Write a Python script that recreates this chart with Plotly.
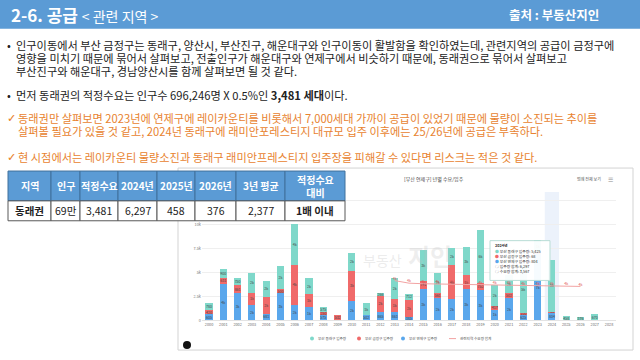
import plotly.graph_objects as go

W, H = 640, 360
def px(x): return x / W
def py(y): return 1 - y / H

FONT = "Noto Sans CJK KR"

# ---------------- data ----------------
years = list(range(2000, 2029))
dongnae = [780, 900, 750, 2000, 1600, 2400, 4300, 1700, 575, 0, 1800, 1250, 266, 2200, 712,
           3300, 2100, 1800, 3000, 5500, 2200, 1900, 5035, 1260, 5425, 458, 376, 670, 0]
geumjeong = [420, 631, 861, 1300, 1800, 500, 4200, 1300, 250, 532, 3200, 0, 1700, 1400, 1700,
             791, 561, 3600, 1400, 752, 417, 502, 100, 150, 68, 0, 0, 0, 0]
yeonje = [605, 3800, 2800, 1600, 681, 2800, 1600, 1400, 575, 0, 2000, 502, 865, 863, 385,
          3300, 2300, 2200, 3300, 3150, 1100, 2300, 625, 6950, 804, 0, 0, 0, 0]
demand_years = list(range(2013, 2027))
demand = [4150, 3880, 3820, 3790, 3760, 3730, 3700, 3680, 3650, 3620, 3590, 3567, 3550, 3540]

y_ticks = [0, 2500, 5000, 7500, 10000, 12500]
y_ticktext = ["0", "2.5k", "5k", "7.5k", "10k", "12.5k"]

series_names = ["부산 동래구 입주량", "부산 금정구 입주량", "부산 연제구 입주량", "관련지역 수요량 합계"]

table_header = ["지역", "인구", "적정수요", "2024년", "2025년", "2026년", "3년 평균", "적정수요<br>대비"]
table_row = ["동래권", "69만", "3,481", "6,297", "458", "376", "2,377", "1배 이내"]

tooltip_year = "2024년"
tooltip_lines = ["부산 동래구 입주량: 5,425", "부산 금정구 입주량: 68", "부산 연제구 입주량: 804",
                 "입주량 합계: 6,297", "수요량 합계: 3,567"]

body_lines = [
    "인구이동에서 부산 금정구는 동래구, 양산시, 부산진구, 해운대구와 인구이동이 활발함을 확인하였는데, 관련지역의 공급이 금정구에",
    "영향을 미치기 때문에 묶어서 살펴보고, 전출인구가 해운대구와 연제구에서 비슷하기 때문에, 동래권으로 묶어서 살펴보고",
    "부산진구와 해운대구, 경남양산시를 함께 살펴보면 될 것 같다.",
    "먼저 동래권의 적정수요는 인구수 696,246명 X 0.5%인 <b>3,481 세대</b>이다.",
]
orange_lines = [
    "동래권만 살펴보면 2023년에 연제구에 레이카운티를 비롯해서 7,000세대 가까이 공급이 있었기 때문에 물량이 소진되는 추이를",
    "살펴볼 필요가 있을 것 같고, 2024년 동래구에 래미안포레스티지 대규모 입주 이후에는 25/26년에 공급은 부족하다.",
    "현 시점에서는 레이카운티 물량소진과 동래구 래미안프레스티지 입주장을 피해갈 수 있다면 리스크는 적은 것 같다.",
]

# ---------------- styles ----------------
TEAL = "#7fd8ca"
RED = "#f06a6a"
BLUE = "#5aa7ec"
PINK = "#f2a3a3"
HEAD_BLUE = "#5b9bd5"
ORANGE = "#e8832f"
BODY_SIZE = 11.2

def seg_label(v):
    if v <= 0:
        return ""
    if v >= 1000:
        return f"{v/1000:.0f}k"
    return str(v)

fig = go.Figure()
for vals, color, name in [(yeonje, BLUE, series_names[2]), (geumjeong, RED, series_names[1]),
                          (dongnae, TEAL, series_names[0])]:
    fig.add_trace(go.Bar(
        x=years, y=vals, name=name, marker=dict(color=color, line=dict(width=0)),
        width=0.5, text=[seg_label(v) for v in vals], textposition="inside",
        insidetextanchor="middle", textangle=0, constraintext="none",
        textfont=dict(size=3.6, color="#444", family=FONT), showlegend=False,
    ))
fig.add_trace(go.Scatter(
    x=demand_years, y=demand, mode="lines+text", name=series_names[3],
    line=dict(color=PINK, width=1), text=[f"{v/1000:.0f}k" for v in demand],
    textposition="top center", textfont=dict(size=3.6, color="#e05050", family=FONT),
    showlegend=False,
))

shapes = []
ann = []

# header band
shapes.append(dict(type="rect", xref="paper", yref="paper", x0=0, x1=1, y0=py(29), y1=1,
                   fillcolor=HEAD_BLUE, line=dict(width=0), layer="below"))
ann.append(dict(xref="paper", yref="paper", x=px(9), y=py(15), xanchor="left", yanchor="middle",
                text="<b>2-6. 공급</b> <span style='font-size:14px'>&lt; 관련 지역 &gt;</span>",
                showarrow=False, font=dict(size=17, color="white", family=FONT)))
ann.append(dict(xref="paper", yref="paper", x=px(601), y=py(15), xanchor="right", yanchor="middle",
                text="<b>출처 : 부동산지인</b>", showarrow=False,
                font=dict(size=12.5, color="white", family=FONT)))

# body text
body_y = [45, 58, 71, 96]
for i, (t, yy) in enumerate(zip(body_lines, body_y)):
    if i in (0, 3):
        ann.append(dict(xref="paper", yref="paper", x=px(5), y=py(yy), xanchor="left", yanchor="middle",
                        text="•", showarrow=False, font=dict(size=BODY_SIZE, color="#222", family=FONT)))
    ann.append(dict(xref="paper", yref="paper", x=px(14), y=py(yy), xanchor="left", yanchor="middle",
                    text=t, showarrow=False, font=dict(size=BODY_SIZE, color="#222", family=FONT)))
orange_y = [119, 132, 158]
for i, (t, yy) in enumerate(zip(orange_lines, orange_y)):
    if i in (0, 2):
        ann.append(dict(xref="paper", yref="paper", x=px(5), y=py(yy), xanchor="left", yanchor="middle",
                        text="✓", showarrow=False, font=dict(size=BODY_SIZE, color=ORANGE, family="DejaVu Sans")))
    ann.append(dict(xref="paper", yref="paper", x=px(16), y=py(yy), xanchor="left", yanchor="middle",
                    text=t, showarrow=False, font=dict(size=BODY_SIZE, color=ORANGE, family=FONT)))

# chart panel
shapes.append(dict(type="rect", xref="paper", yref="paper", x0=px(178), x1=px(633), y0=py(352), y1=py(169),
                   fillcolor="white", line=dict(color="#d3d3d3", width=1), layer="below"))
# hover highlight column
shapes.append(dict(type="rect", xref="x", yref="paper", x0=2023.5, x1=2024.5, y0=py(322), y1=py(193),
                   fillcolor="#ecf2fb", line=dict(width=0), layer="below"))
ann.append(dict(xref="paper", yref="paper", x=px(402), y=py(180), xanchor="left", yanchor="middle",
                text="[부산 연제구] 년별 수요/입주", showarrow=False, font=dict(size=5, color="#444", family=FONT)))
ann.append(dict(xref="paper", yref="paper", x=px(603), y=py(180), xanchor="right", yanchor="middle",
                text="범례 전체 보기", showarrow=False, font=dict(size=4, color="#555", family=FONT)))
ann.append(dict(xref="paper", yref="paper", x=px(610), y=py(180), xanchor="center", yanchor="middle",
                text="☰", showarrow=False, font=dict(size=6, color="#888", family="DejaVu Sans")))

# watermark
ann.append(dict(xref="paper", yref="paper", x=px(382), y=py(261), xanchor="center", yanchor="middle",
                text="부동산", showarrow=False, font=dict(size=14, color="rgba(190,190,190,0.3)", family=FONT)))
ann.append(dict(xref="paper", yref="paper", x=px(430), y=py(257), xanchor="center", yanchor="middle",
                text="<b>지인</b>", showarrow=False, font=dict(size=24, color="rgba(190,190,190,0.25)", family=FONT)))

# legend (manual)
leg = [(312, TEAL, series_names[0]), (359, RED, series_names[1]), (403, BLUE, series_names[2])]
for x0, c, name in leg:
    shapes.append(dict(type="circle", xref="paper", yref="paper", x0=px(x0 - 2), x1=px(x0 + 2),
                       y0=py(342.5), y1=py(338.5), fillcolor=c, line=dict(width=0)))
    ann.append(dict(xref="paper", yref="paper", x=px(x0 + 4), y=py(340.5), xanchor="left", yanchor="middle",
                    text=name, showarrow=False, font=dict(size=3.6, color="#555", family=FONT)))
shapes.append(dict(type="line", xref="paper", yref="paper", x0=px(449), x1=px(456), y0=py(340.5), y1=py(340.5),
                   line=dict(color=PINK, width=1)))
ann.append(dict(xref="paper", yref="paper", x=px(458), y=py(340.5), xanchor="left", yanchor="middle",
                text=series_names[3], showarrow=False, font=dict(size=3.6, color="#555", family=FONT)))

# tooltip
shapes.append(dict(type="rect", xref="paper", yref="paper", x0=px(490), x1=px(550), y0=py(282), y1=py(242),
                   fillcolor="rgba(255,255,255,0.95)", line=dict(color="#b9ddd6", width=1), layer="above"))
ann.append(dict(xref="paper", yref="paper", x=px(493), y=py(247), xanchor="left", yanchor="middle",
                text="<b>" + tooltip_year + "</b>", showarrow=False, font=dict(size=3.8, color="#333", family=FONT)))
tip_marks = [("●", TEAL), ("●", RED), ("●", BLUE), ("○", "#666"), ("○", "#666")]
for i, (t, (m, c)) in enumerate(zip(tooltip_lines, tip_marks)):
    yy = 252.5 + i * 5.2
    ann.append(dict(xref="paper", yref="paper", x=px(493), y=py(yy), xanchor="left", yanchor="middle",
                    text=f"<span style='color:{c}'>{m}</span> {t}", showarrow=False,
                    font=dict(size=3.8, color="#333", family=FONT)))

# logo icon
shapes.append(dict(type="circle", xref="paper", yref="paper", x0=px(183), x1=px(191), y0=py(351), y1=py(343),
                   fillcolor="#111", line=dict(width=0)))

# table
col_edges = [8, 51, 80, 118, 157, 195, 236, 285, 345, 401]
row_edges = [172, 202, 222]
for ci in range(len(table_header)):
    xa, xb = col_edges[ci], col_edges[ci + 1]
    shapes.append(dict(type="rect", xref="paper", yref="paper", x0=px(xa), x1=px(xb),
                       y0=py(row_edges[1]), y1=py(row_edges[0]), fillcolor=HEAD_BLUE,
                       line=dict(color="#41719c", width=1), layer="above"))
    shapes.append(dict(type="rect", xref="paper", yref="paper", x0=px(xa), x1=px(xb),
                       y0=py(row_edges[2]), y1=py(row_edges[1]), fillcolor="white",
                       line=dict(color="#595959", width=1), layer="above"))
    ann.append(dict(xref="paper", yref="paper", x=px((xa + xb) / 2), y=py((row_edges[0] + row_edges[1]) / 2),
                    xanchor="center", yanchor="middle", text="<b>" + table_header[ci] + "</b>",
                    showarrow=False, font=dict(size=10, color="white", family=FONT)))
    txt = table_row[ci]
    if ci in (0, len(table_row) - 1):
        txt = "<b>" + txt + "</b>"
    ann.append(dict(xref="paper", yref="paper", x=px((xa + xb) / 2), y=py((row_edges[1] + row_edges[2]) / 2),
                    xanchor="center", yanchor="middle", text=txt,
                    showarrow=False, font=dict(size=10.5, color="#222", family=FONT)))

fig.update_layout(
    width=W, height=H, margin=dict(l=0, r=0, t=0, b=0),
    paper_bgcolor="white", plot_bgcolor="rgba(0,0,0,0)",
    barmode="stack", bargap=0.5, showlegend=False,
    font=dict(family=FONT),
    shapes=shapes, annotations=ann,
    xaxis=dict(domain=[px(201.9), px(616.2)], range=[1999.5, 2028.5], tickvals=years,
               ticktext=[str(y) for y in years], tickfont=dict(size=3.8, color="#666"),
               showgrid=False, zeroline=False, showline=True, linecolor="#e3e3e3", ticks=""),
    yaxis=dict(domain=[py(322), py(193)], range=[0, 13440], tickvals=y_ticks, ticktext=y_ticktext,
               tickfont=dict(size=3.8, color="#777"), gridcolor="#efefef", zeroline=False, ticks=""),
)

fig.write_html("out.html", config={"displayModeBar": False},
               post_script="document.body.style.margin='0px';")
